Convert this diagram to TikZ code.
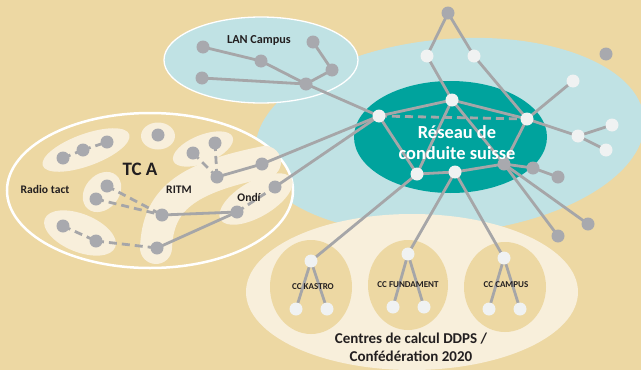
\documentclass[tikz,border=0pt]{standalone}
\usepackage{fontspec}
\setmainfont{Carlito}
\usetikzlibrary{shapes.geometric}

\definecolor{tanbg}{RGB}{237,216,163}
\definecolor{paleblue}{RGB}{192,226,228}
\definecolor{reseau}{RGB}{0,163,157}
\definecolor{cream}{RGB}{248,239,219}
\definecolor{dotgray}{RGB}{168,169,174}
\definecolor{wiregray}{RGB}{166,166,168}
\definecolor{dotwhite}{RGB}{240,242,242}
\definecolor{ink}{RGB}{35,31,32}

\pgfdeclarelayer{back}
\pgfdeclarelayer{links}
\pgfsetlayers{back,links,main}

\begin{document}
\begin{tikzpicture}[x=1pt,y=-1pt,
  gdot/.style={circle,fill=dotgray,minimum size=13pt,inner sep=0pt},
  wdot/.style={circle,fill=dotwhite,minimum size=13pt,inner sep=0pt},
  wire/.style={wiregray,line width=2.8pt},
  dwire/.style={wire,dash pattern=on 8pt off 5pt},
  blob/.style={ellipse,fill=cream,inner sep=0pt},
  lbl/.style={text=ink,font=\bfseries\fontsize{11.6}{13}\selectfont},
  cclbl/.style={text=ink,font=\bfseries\fontsize{9}{10}\selectfont}]
\useasboundingbox (0,0) rectangle (641,370);

\begin{pgfonlayer}{back}
\fill[tanbg] (0,0) rectangle (641,370);
\begin{scope}
\clip (0,0) rectangle (641,370);
\fill[paleblue,rotate around={5:(450,136)}] (450,136) ellipse [x radius=195,y radius=97];
\filldraw[fill=paleblue,draw=white,line width=1.3pt] (261,60) ellipse [x radius=97,y radius=43];
\fill[reseau] (450.5,137) ellipse [x radius=96.5,y radius=56];
\fill[cream] (412,292) ellipse [x radius=166,y radius=78];
\fill[tanbg] (311,287) ellipse [x radius=41,y radius=47];
\fill[tanbg] (408,285) ellipse [x radius=40,y radius=45];
\fill[tanbg] (505,287) ellipse [x radius=41,y radius=45];
\filldraw[fill=tanbg,draw=white,line width=2.5pt] (150,190.5) ellipse [x radius=143,y radius=77.5];
\end{scope}
% groups inside TC A
\node[blob,minimum width=92pt,minimum height=32pt,rotate=20] (radiogrp) at (86,150) {};
\node[blob,minimum width=34pt,minimum height=27pt] (singlegrp) at (158,136) {};
\node[blob,minimum width=64pt,minimum height=28pt,rotate=22] (pairgrp) at (203,149) {};
\node[blob,minimum width=44pt,minimum height=34pt,rotate=50] (midgrp) at (102,192) {};
\node[blob,minimum width=76pt,minimum height=38pt,rotate=-22] (lowgrp) at (80,233) {};
\node[blob,minimum width=82pt,minimum height=36pt,rotate=30] (ondigrp) at (256,199) {};
\draw[cream,line width=32pt,line cap=round] (156,248) .. controls (158,200) and (185,178) .. (265,162);
\end{pgfonlayer}

% LAN Campus
\node[gdot] (l1) at (203,47) {};
\node[gdot] (l2) at (261,61) {};
\node[gdot] (l3) at (313,42) {};
\node[gdot] (l4) at (332,70) {};
\node[gdot] (l5) at (202,78) {};
\node[gdot] (l6) at (306,84) {};

% reseau de conduite
\node[gdot] (t0) at (448,13) {};
\node[wdot] (t1) at (427,56) {};
\node[wdot] (t2) at (474,56) {};
\node[gdot] (g0) at (606,54) {};
\node[wdot] (cA) at (379,116) {};
\node[wdot] (cB) at (452,100) {};
\node[wdot] (cC) at (527,119) {};
\node[wdot] (cD) at (417,174) {};
\node[wdot] (cE) at (455,172) {};
\node[wdot] (r1) at (573,81) {};
\node[wdot] (r2) at (578,136) {};
\node[wdot] (r3) at (612,125) {};
\node[wdot] (r4) at (606,150) {};
\node[gdot] (g1) at (504,164) {};
\node[gdot] (g2) at (533,168) {};
\node[gdot] (g3) at (558,177) {};
\node[gdot] (g4) at (588,224) {};
\node[gdot] (g5) at (558,236) {};

% TC A
\node[gdot] (a1) at (63,158) {};
\node[gdot] (a2) at (83,150) {};
\node[gdot] (a3) at (107,142) {};
\node[gdot] (a4) at (158,135) {};
\node[gdot] (b1) at (193,153) {};
\node[gdot] (b2) at (215,143) {};
\node[gdot] (a5) at (107,186) {};
\node[gdot] (a6) at (96,199) {};
\node[gdot] (a7) at (63,226) {};
\node[gdot] (a8) at (96,241) {};
\node[gdot] (m1) at (217,177) {};
\node[gdot] (m2) at (262,164) {};
\node[gdot] (m3) at (162,215) {};
\node[gdot] (m4) at (157,248) {};
\node[gdot] (o1) at (237,212) {};
\node[gdot] (o2) at (275,187) {};

% centres de calcul
\node[wdot] (k0) at (311,261) {};
\node[wdot] (k1) at (296,309) {};
\node[wdot] (k2) at (327,309) {};
\node[wdot] (f0) at (408,254) {};
\node[wdot] (f1) at (393,307) {};
\node[wdot] (f2) at (424,307) {};
\node[wdot] (p0) at (504,258) {};
\node[wdot] (p1) at (489,309) {};
\node[wdot] (p2) at (520,309) {};

\begin{pgfonlayer}{links}
\foreach \a/\b in %
{l1/l2,l2/l6,l5/l6,l3/l4,l4/l6,l6/cA,t0/t1,t1/cB,t0/t2,t2/cC,
 cA/cB,cB/cC,cA/cD,cB/cD,cB/g1,cC/g1,cC/r1,cC/r2,r2/r3,r2/r4,
 cD/cE,cE/g1,g1/g2,g2/g3,g1/g4,g1/g5,cA/m2,cA/o2,cD/k0,cE/f0,cE/p0,
 m1/m2,m3/o1,m4/o1,k0/k1,k0/k2,f0/f1,f0/f2,p0/p1,p0/p2} {
   \draw[wire] (\a.center) -- (\b.center);
}
\foreach \a/\b in %
{cA/cC,a1/a2,a2/a3,b1/m1,b2/m1,a5/m3,a6/m3,o1/o2,a7/a8,a8/m4} {
   \draw[dwire] (\a.center) -- (\b.center);
}
\end{pgfonlayer}

\node[lbl,font=\bfseries\fontsize{12.2}{14}\selectfont] (lan) at (259,40) {LAN Campus};
\node[text=ink,font=\bfseries\fontsize{19}{22}\selectfont] (tca) at (140,169) {TC A};
\node[lbl] (radio) at (45,189) {Radio tact};
\node[lbl] (ritm) at (179,190) {RITM};
\node[lbl] (ondi) at (249,197) {Ondí};
\node[text=white,align=center,font=\bfseries\fontsize{18.4}{21}\selectfont] (reseaulbl) at (457,143) {Réseau de\\conduite suisse};
\node[cclbl] (kastro) at (313,287) {CC KASTRO};
\node[cclbl] (fundament) at (408,285) {CC FUNDAMENT};
\node[cclbl] (campus) at (506,285) {CC CAMPUS};
\node[text=ink,align=center,font=\bfseries\fontsize{15}{18}\selectfont] (centres) at (411,347) {Centres de calcul DDPS /\\Confédération 2020};
\end{tikzpicture}
\end{document}
